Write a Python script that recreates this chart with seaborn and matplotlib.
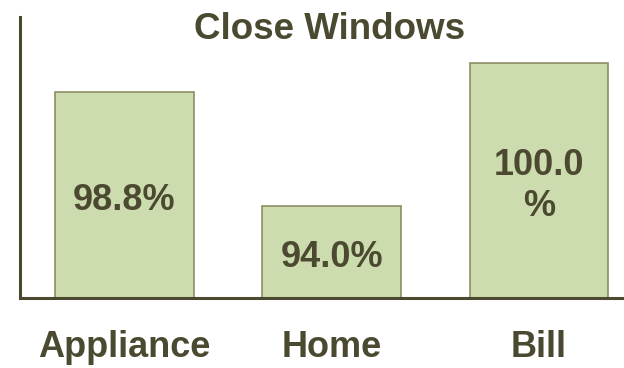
import matplotlib
matplotlib.use("Agg")
import matplotlib.pyplot as plt
import pandas as pd
import seaborn as sns

# data
categories = ["Appliance", "Home", "Bill"]
values = [98.8, 94.0, 100.0]
labels = ["98.8%", "94.0%", "100.0\n%"]

fill = "#cddcae"
edge = "#85855a"
dark = "#4b4930"

sns.set_style("white")
plt.rcParams["font.family"] = ["Liberation Sans", "DejaVu Sans"]

df = pd.DataFrame({"cat": categories, "val": values})

fig = plt.figure(figsize=(6.24, 3.68), dpi=100)
ax = fig.add_axes([0.032, 0.189, 0.968, 0.765])

sns.barplot(data=df, x="cat", y="val", color=fill, saturation=1, width=0.67,
            edgecolor=edge, linewidth=1.1, ax=ax)
ax.bar_label(ax.containers[0], labels=labels, label_type="center", padding=-3.5,
             fontsize=26, fontweight="bold", color=dark)

ax.set_ylim(90.1, 101.96)
ax.set_xlim(-0.504, 2.41)
ax.set_yticks([])
ax.set_xlabel("")
ax.set_ylabel("")
ax.tick_params(axis="x", length=0, pad=23, labelsize=26, labelcolor=dark)
for t in ax.get_xticklabels():
    t.set_fontweight("bold")

for s in ["top", "right"]:
    ax.spines[s].set_visible(False)
for s in ["left", "bottom"]:
    ax.spines[s].set_color(dark)
    ax.spines[s].set_linewidth(2.2)

fig.text(0.528, 0.92, "Close Windows", ha="center", va="center",
         fontsize=26.5, fontweight="bold", color=dark)

fig.savefig("out.png", dpi=100)
